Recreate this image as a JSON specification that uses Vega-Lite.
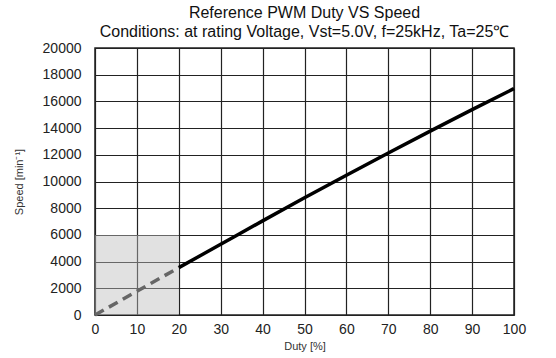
{
  "$schema": "https://vega.github.io/schema/vega-lite/v6.json",
  "autosize": {"type": "none"},
  "width": 419,
  "height": 267,
  "padding": {"left": 95, "top": 48, "right": 42, "bottom": 43},
  "background": "white",
  "title": {
    "text": ["Reference PWM Duty VS Speed", "Conditions: at rating Voltage, Vst=5.0V, f=25kHz, Ta=25℃"],
    "anchor": "middle",
    "font": "Liberation Sans",
    "fontSize": 16,
    "fontWeight": "normal",
    "lineHeight": 19,
    "color": "#111111",
    "offset": 1
  },
  "config": {
    "view": {"stroke": "#222222", "strokeWidth": 1.5},
    "axis": {
      "labelFont": "Liberation Sans",
      "titleFont": "Liberation Sans",
      "labelFontSize": 14,
      "titleFontSize": 11,
      "titleFontWeight": "normal",
      "labelColor": "#222222",
      "titleColor": "#333333",
      "gridColor": "#222222",
      "gridOpacity": 1,
      "gridWidth": 1.2,
      "domain": false,
      "ticks": false,
      "labelOverlap": false,
      "labelFlush": false,
      "format": "d",
      "tickCount": 30
    }
  },
  "datasets": {
    "solid": [
      {"duty": 20, "speed": 3550},
      {"duty": 30, "speed": 5300},
      {"duty": 40, "speed": 7050},
      {"duty": 50, "speed": 8780},
      {"duty": 60, "speed": 10470},
      {"duty": 70, "speed": 12130},
      {"duty": 80, "speed": 13770},
      {"duty": 90, "speed": 15380},
      {"duty": 100, "speed": 16960}
    ],
    "dashed": [
      {"duty": 0, "speed": 0},
      {"duty": 10, "speed": 1780},
      {"duty": 20, "speed": 3550}
    ],
    "zone": [
      {"x0": 0, "x1": 20, "y0": 0, "y1": 6000}
    ]
  },
  "layer": [
    {
      "data": {"name": "zone"},
      "mark": {"type": "rect", "fill": "#bdbdbd", "opacity": 0.45},
      "encoding": {
        "x": {"field": "x0", "type": "quantitative",
          "scale": {"domain": [0, 100], "nice": false},
          "axis": {"values": [0,10,20,30,40,50,60,70,80,90,100], "tickCount": 30, "title": "Duty [%]", "labelPadding": 7, "titlePadding": 4}},
        "x2": {"field": "x1"},
        "y": {"field": "y0", "type": "quantitative",
          "scale": {"domain": [0, 20000], "nice": false},
          "axis": {"values": [0,2000,4000,6000,8000,10000,12000,14000,16000,18000,20000], "tickCount": 30, "title": "Speed [min⁻¹]", "labelPadding": 14, "titlePadding": 18}},
        "y2": {"field": "y1"}
      }
    },
    {
      "data": {"name": "dashed"},
      "mark": {"type": "line", "color": "#666666", "strokeWidth": 3.5, "strokeDash": [10, 6]},
      "encoding": {
        "x": {"field": "duty", "type": "quantitative"},
        "y": {"field": "speed", "type": "quantitative"}
      }
    },
    {
      "data": {"name": "solid"},
      "mark": {"type": "line", "color": "#000000", "strokeWidth": 3.5, "interpolate": "monotone"},
      "encoding": {
        "x": {"field": "duty", "type": "quantitative"},
        "y": {"field": "speed", "type": "quantitative"}
      }
    }
  ]
}
